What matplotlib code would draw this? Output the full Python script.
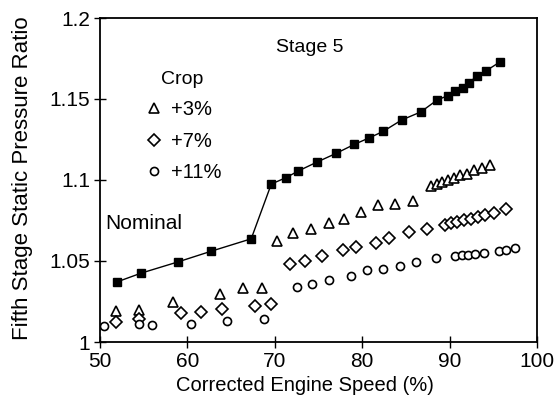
import numpy as np
import matplotlib
matplotlib.use('Agg')
import matplotlib.pyplot as plt

plt.rcParams['font.family'] = ['Liberation Sans', 'DejaVu Sans']

# nominal (filled squares, joined by a line)
nom_x = [52.0, 54.7, 58.9, 62.7, 67.3, 69.6, 71.3, 72.7, 74.8, 77.0, 79.1, 80.8,
         82.4, 84.5, 86.7, 88.6, 89.8, 90.6, 91.5, 92.2, 93.1, 94.2, 95.8]
nom_y = [1.0372, 1.0425, 1.0494, 1.0560, 1.0637, 1.0975, 1.1015, 1.1056, 1.1110,
         1.1164, 1.1220, 1.1260, 1.1300, 1.1370, 1.1420, 1.1495, 1.1520, 1.1547,
         1.1570, 1.1600, 1.1640, 1.1675, 1.1730]

# crop +3% (open triangles)
c3_x = [51.8, 54.5, 58.3, 63.7, 66.4, 68.5, 70.3, 72.1, 74.1, 76.2, 77.9, 79.9,
        81.8, 83.8, 85.8, 87.9, 88.6, 89.1, 89.8, 90.5, 91.2, 92.0, 92.8, 93.7, 94.6]
c3_y = [1.0190, 1.0200, 1.0250, 1.0297, 1.0333, 1.0333, 1.0623, 1.0670, 1.0700,
        1.0735, 1.0760, 1.0800, 1.0844, 1.0850, 1.0868, 1.0960, 1.0975, 1.0990,
        1.1000, 1.1015, 1.1030, 1.1040, 1.1060, 1.1075, 1.1095]

# crop +7% (open diamonds)
c7_x = [51.8, 54.5, 59.3, 61.6, 64.0, 67.7, 69.6, 71.7, 73.5, 75.4, 77.8, 79.3,
        81.6, 83.1, 85.3, 87.4, 89.5, 90.2, 90.9, 91.6, 92.4, 93.2, 94.1, 95.1, 96.5]
c7_y = [1.0123, 1.0143, 1.0178, 1.0188, 1.0205, 1.0220, 1.0235, 1.0480, 1.0500,
        1.0530, 1.0566, 1.0586, 1.0610, 1.0640, 1.0678, 1.0700, 1.0725, 1.0735,
        1.0742, 1.0752, 1.0762, 1.0772, 1.0782, 1.0795, 1.0823]

# crop +11% (open circles)
c11_x = [50.5, 54.5, 56.0, 60.4, 64.5, 68.8, 72.5, 74.2, 76.2, 78.7, 80.5, 82.4,
         84.3, 86.2, 88.5, 90.6, 91.4, 92.1, 92.9, 93.9, 95.6, 96.4, 97.5]
c11_y = [1.0096, 1.0113, 1.0108, 1.0113, 1.0127, 1.0139, 1.0340, 1.0360, 1.0384,
         1.0405, 1.0444, 1.0450, 1.0472, 1.0494, 1.0517, 1.0531, 1.0535, 1.0540,
         1.0545, 1.0550, 1.0562, 1.0568, 1.0582]

fig = plt.figure(figsize=(5.59, 4.09), dpi=100)
ax = fig.add_axes([100/559, 1 - 342/409, 437/559, 324/409])

ax.plot(nom_x, nom_y, color='black', lw=1.0, marker='s', ms=6.3,
        mfc='black', mec='black')
mk = dict(ls='none', mfc='white', mec='black', mew=1.2)
ax.plot(c3_x, c3_y, marker='^', ms=7, label='+3%', **mk)
ax.plot(c7_x, c7_y, marker='D', ms=5.8, label='+7%', **mk)
ax.plot(c11_x, c11_y, marker='o', ms=5.8, label='+11%', **mk)

ax.set_xlim(50, 100)
ax.set_ylim(1, 1.2)
ax.set_xticks([50, 60, 70, 80, 90, 100])
ax.set_yticks([1, 1.05, 1.1, 1.15, 1.2])
ax.set_yticklabels(['1', '1.05', '1.1', '1.15', '1.2'])
ax.tick_params(direction='inout', length=8, width=1, labelsize=15, pad=3)
for s in ax.spines.values():
    s.set_linewidth(1.3)

ax.set_xlabel('Corrected Engine Speed (%)', fontsize=14.5)
ax.set_ylabel('Fifth Stage Static Pressure Ratio', fontsize=16)
ax.xaxis.set_label_coords(0.468, -0.105)
ax.yaxis.set_label_coords(-0.153, 0.505)

ax.text(74.0, 1.182, 'Stage 5', fontsize=14, ha='center', va='center')
ax.text(50.6, 1.0734, 'Nominal', fontsize=15, ha='left', va='center')

leg = ax.legend(title='Crop', loc='upper left', bbox_to_anchor=(0.065, 0.88),
                frameon=False, fontsize=14.5, title_fontsize=14,
                handletextpad=0.3, labelspacing=0.62, handlelength=1.1,
                borderpad=0.2)

fig.savefig('out.png', dpi=100)
